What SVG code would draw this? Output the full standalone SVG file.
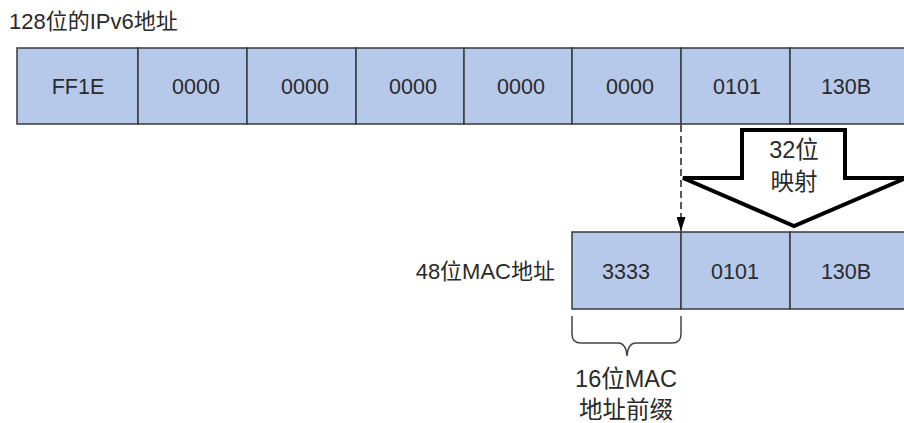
<svg xmlns="http://www.w3.org/2000/svg" width="904" height="423" viewBox="0 0 904 423">
<defs>
<style>
.cell{fill:#B7C9EA;stroke:#3a3a3a;stroke-width:1.5}
.t{font-family:"Liberation Sans","Noto Sans CJK SC",sans-serif;font-size:21.5px;fill:#2a2a2a;text-anchor:middle}
.lbl{font-family:"Liberation Sans","Noto Sans CJK SC",sans-serif;font-size:22px;fill:#2a2a2a}
.big{font-family:"Liberation Sans","Noto Sans CJK SC",sans-serif;font-size:23.5px;fill:#2a2a2a;text-anchor:middle}
.dash{stroke:#000;stroke-width:1.3;stroke-dasharray:7,4;fill:none}
</style>
<marker id="ah" markerWidth="14" markerHeight="9" refX="14" refY="4.5" orient="auto" markerUnits="userSpaceOnUse">
<path d="M0,0 L14,4.5 L0,9 Z" fill="#000"/>
</marker>
</defs>
<rect width="904" height="423" fill="#fff"/>
<text class="lbl" x="9" y="29">128位的IPv6地址</text>
<g id="ipv6">
<rect class="cell" x="17" y="48" width="121" height="76"/>
<rect class="cell" x="138" y="48" width="109" height="76"/>
<rect class="cell" x="247" y="48" width="109" height="76"/>
<rect class="cell" x="356" y="48" width="108" height="76"/>
<rect class="cell" x="464" y="48" width="108" height="76"/>
<rect class="cell" x="572" y="48" width="109" height="76"/>
<rect class="cell" x="681" y="48" width="109" height="76"/>
<rect class="cell" x="790" y="48" width="130" height="76"/>
<text class="t" x="78" y="94">FF1E</text>
<text class="t" x="196" y="94">0000</text>
<text class="t" x="305" y="94">0000</text>
<text class="t" x="413" y="94">0000</text>
<text class="t" x="521" y="94">0000</text>
<text class="t" x="630" y="94">0000</text>
<text class="t" x="737" y="94">0101</text>
<text class="t" x="846" y="94">130B</text>
</g>
<g id="mac">
<text class="lbl" x="555" y="279" text-anchor="end">48位MAC地址</text>
<rect class="cell" x="572" y="232" width="109" height="77"/>
<rect class="cell" x="681" y="232" width="109" height="77"/>
<rect class="cell" x="790" y="232" width="130" height="77"/>
<text class="t" x="626" y="279">3333</text>
<text class="t" x="735" y="279">0101</text>
<text class="t" x="846" y="279">130B</text>
</g>
<g id="map-arrow">
<path d="M742,130 L845,130 L845,178 L906,178 L794,226 L683,178 L742,178 Z" fill="#fff" stroke="#000" stroke-width="4" stroke-linejoin="miter"/>
<text class="big" x="794" y="158">32位</text>
<text class="big" x="794" y="190">映射</text>
</g>
<g id="connectors">
<line class="dash" x1="681" y1="125" x2="681" y2="231" marker-end="url(#ah)"/>
<line class="dash" x1="909" y1="125" x2="909" y2="231" marker-end="url(#ah)"/>
</g>
<g id="prefix">
<path d="M572,316 L572,334 Q572,343 581,343 L618,343 Q626,343 627,356 Q628,343 636,343 L672,343 Q681,343 681,334 L681,316" fill="none" stroke="#444" stroke-width="1.5"/>
<text class="big" x="626" y="387">16位MAC</text>
<text class="big" x="626" y="418">地址前缀</text>
</g>
</svg>
